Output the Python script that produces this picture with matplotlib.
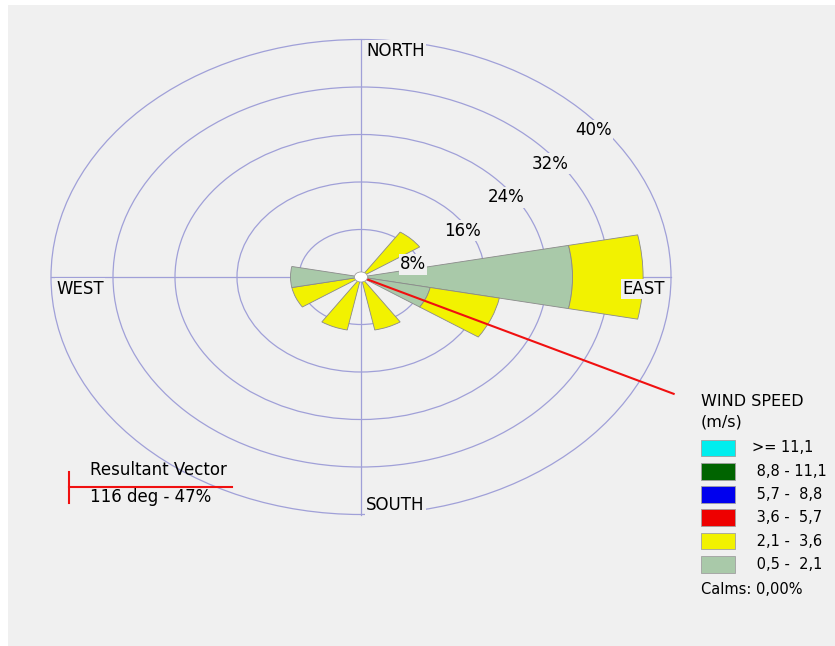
import matplotlib
matplotlib.use('Agg')
import matplotlib.pyplot as plt
from matplotlib.patches import Wedge, Circle, Rectangle
from math import sin, cos, radians


# picture size and polar frame in pixels (the rose is stretched sideways)
W, H = 835, 646
CX, CY = 361, 277
SX, SY = 62 / 8, 47.5 / 8

directions = ['N', 'NNE', 'NE', 'ENE', 'E', 'ESE', 'SE', 'SSE',
              'S', 'SSW', 'SW', 'WSW', 'W', 'WNW', 'NW', 'NNW']
speed_labels = ['>= 11,1', ' 8,8 - 11,1', ' 5,7 -  8,8',
                ' 3,6 -  5,7', ' 2,1 -  3,6', ' 0,5 -  2,1']
speed_colors = ['#00EEEE', '#006400', '#0000EE', '#EE0000', '#F2F200', '#A9C9A9']

# frequency (%) per direction for each speed class
freq_05_21 = [0, 0, 0, 0, 27.3, 9.1, 0, 0, 0, 0, 0, 0, 9.1, 0, 0, 0]
freq_21_36 = [0, 0, 9.1, 0, 9.1, 9.1, 0, 9.1, 0, 9.1, 0, 9.1, 0, 0, 0, 0]

rings = [8, 16, 24, 32, 40]
calms = '0,00%'
resultant_dir = 116
resultant_pct = 47

ring_color = '#A0A0D8'
panel = '#F0F0F0'
red = '#F01010'


def px(x, y):
    # pixel position (from top left) -> figure fraction
    return x / W, 1 - y / H


def main():
    fig = plt.figure(figsize=(W / 100, H / 100), dpi=100, facecolor='white')
    fig.add_artist(Rectangle((8 / W, 0), 1, (H - 5) / H, transform=fig.transFigure,
                             fc=panel, ec='none', zorder=0))

    ax = fig.add_axes([0, 0, 1, 1])
    ax.set_xlim(-CX / SX, (W - CX) / SX)
    ax.set_ylim(-(H - CY) / SY, CY / SY)
    ax.axis('off')

    rmax = rings[-1]
    for r in rings:
        ax.add_patch(Circle((0, 0), r, fill=False, ec=ring_color, lw=0.9, zorder=1))
    ax.plot([-rmax, rmax], [0, 0], color=ring_color, lw=0.9, zorder=1)
    ax.plot([0, 0], [-rmax, rmax], color=ring_color, lw=0.9, zorder=1)

    # petals, lowest speed class innermost
    classes = [(freq_05_21, speed_colors[5]), (freq_21_36, speed_colors[4])]
    for i, d in enumerate(directions):
        ang = i * 22.5
        base = 0
        for vals, color in classes:
            v = vals[i]
            if v > 0:
                ax.add_patch(Wedge((0, 0), base + v, 90 - ang - 11.25, 90 - ang + 11.25,
                                   width=v, fc=color, ec='#8A8A8A', lw=0.6, zorder=2))
            base += v

    # resultant vector (the original draws it a bit short of its value)
    a = radians(resultant_dir)
    length = resultant_pct * 0.955
    ax.plot([0, length * sin(a)], [0, length * cos(a)],
            color=red, lw=1.5, zorder=3)

    ax.add_patch(Circle((0, 0), 0.85, fc='white', ec='#A0A0A0', lw=0.6, zorder=4))

    box = dict(fc=panel, ec='none', pad=1)
    s45 = sin(radians(45))
    for r in rings:
        ax.annotate(f'{r}%', xy=(r * s45, r * s45), xytext=(-5, -21),
                    textcoords='offset pixels', ha='left', va='center',
                    fontsize=12, bbox=box, zorder=5)

    ax.annotate('NORTH', xy=(0, rmax), xytext=(5, -11), textcoords='offset pixels',
                ha='left', va='center', fontsize=12, bbox=box, zorder=5)
    ax.annotate('EAST', xy=(rmax, 0), xytext=(-6, -12), textcoords='offset pixels',
                ha='right', va='center', fontsize=12, bbox=box, zorder=5)
    ax.annotate('SOUTH', xy=(0, -rmax), xytext=(5, 9), textcoords='offset pixels',
                ha='left', va='center', fontsize=12, bbox=box, zorder=5)
    ax.annotate('WEST', xy=(-rmax, 0), xytext=(5, -11.5), textcoords='offset pixels',
                ha='left', va='center', fontsize=12, bbox=box, zorder=5)

    # resultant vector key
    fig.add_artist(plt.Line2D(*zip(px(69, 472), px(69, 503)), color=red, lw=1.5,
                              transform=fig.transFigure))
    fig.add_artist(plt.Line2D(*zip(px(69, 487), px(232, 487)), color=red, lw=1.5,
                              transform=fig.transFigure))
    fig.text(*px(90, 470), 'Resultant Vector', fontsize=12, va='center')
    fig.text(*px(90, 497), f'{resultant_dir} deg - {resultant_pct}%', fontsize=12, va='center')

    # wind speed key
    fig.text(*px(701, 401), 'WIND SPEED', fontsize=11.5, va='center')
    fig.text(*px(701, 422), '(m/s)', fontsize=11.5, va='center')
    for k, (lab, col) in enumerate(zip(speed_labels, speed_colors)):
        y = 439.5 + k * 23.3
        x0, y0 = px(701, y + 16.7)
        fig.add_artist(Rectangle((x0, y0), 34 / W, 16.7 / H, transform=fig.transFigure,
                                 fc=col, ec='#A0A0A0', lw=0.6))
        fig.text(*px(752, y + 8.3), lab, fontsize=10.5, va='center')
    fig.text(*px(701, 589), f'Calms: {calms}', fontsize=10.5, va='center')

    fig.savefig('out.png', dpi=100, facecolor='white')


if __name__ == '__main__':
    main()
